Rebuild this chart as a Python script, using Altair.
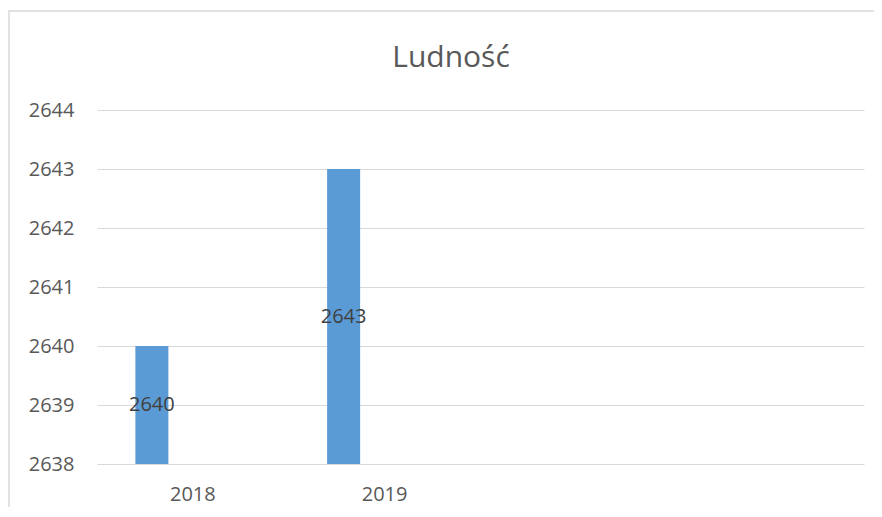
import altair as alt
import pandas as pd

categories = ["2018", "2019", " ", "  "]
years = ["2018", "2019"]
values = [2640, 2643]
y_ticks = [2638, 2639, 2640, 2641, 2642, 2643, 2644]
title_text = "Ludność"

df = pd.DataFrame({"rok": years, "ludnosc": values})

FONT = "Open Sans"
TXT = "#595959"

x_enc = alt.X("rok:N", scale=alt.Scale(domain=categories, paddingInner=0, paddingOuter=0),
              axis=alt.Axis(title=None, labelAngle=0, ticks=False, domain=False, grid=False,
                            labelFontSize=20, labelColor=TXT, labelFont=FONT, labelPadding=20))
y_scale = alt.Scale(domain=[y_ticks[0], y_ticks[-1]], zero=False, nice=False)

base = alt.Chart(df)

bars = base.mark_bar(color="#5B9BD5", width=33, xOffset=-41).encode(
    x=x_enc,
    y=alt.Y("ludnosc:Q", scale=y_scale,
            axis=alt.Axis(title=None, values=y_ticks, format="d", ticks=False, domain=False,
                          grid=True, gridColor="#D9D9D9", gridWidth=1,
                          labelFontSize=20, labelColor=TXT, labelFont=FONT, labelPadding=23)),
    y2=alt.datum(y_ticks[0]),
)

labels = base.transform_calculate(mid=f"(datum.ludnosc + {y_ticks[0]}) / 2").mark_text(
    font=FONT, fontSize=20, color="#404040", xOffset=-41, baseline="middle"
).encode(
    x=alt.X("rok:N", scale=alt.Scale(domain=categories)),
    y=alt.Y("mid:Q", scale=y_scale),
    text=alt.Text("ludnosc:Q", format="d"),
)

one = pd.DataFrame({"a": [0]})

border = alt.Chart(one).mark_rect(
    fill=None, stroke="#D9D9D9", strokeWidth=1.5, clip=False
).encode(
    x=alt.value(-88), x2=alt.value(1200), y=alt.value(-99), y2=alt.value(1000)
)

title = alt.Chart(one).mark_text(
    text=title_text, font=FONT, fontSize=30, color=TXT, align="center", baseline="middle"
).encode(x=alt.value(354), y=alt.value(-52))

chart = alt.layer(border, bars, labels, title).properties(
    width=767, height=354,
    padding={"left": 89, "top": 102, "right": 10, "bottom": 43},
    autosize=alt.AutoSizeParams(type="none"),
).configure(background="white").configure_view(strokeWidth=0, stroke="transparent")

chart.save("out.html", embed_options={"renderer": "svg", "actions": False})
